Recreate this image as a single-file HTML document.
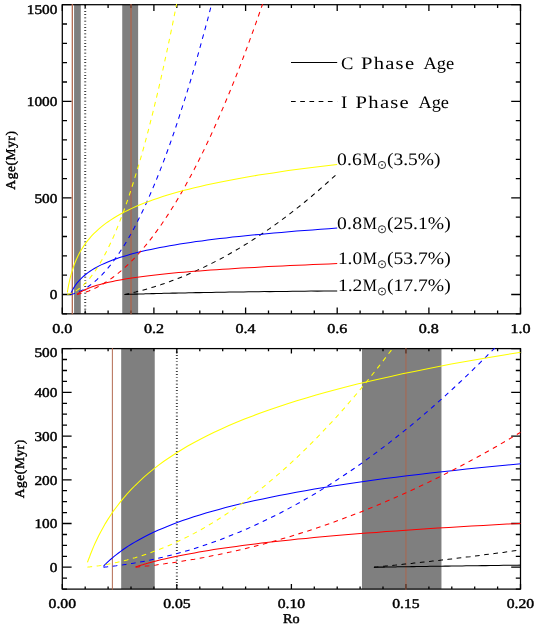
<!DOCTYPE html>
<html><head><meta charset="utf-8"><title>Age vs Ro</title>
<style>html,body{margin:0;padding:0;background:#fff}body{width:540px;height:628px;overflow:hidden;font-family:"Liberation Serif",serif}svg{display:block}</style>
</head><body>
<svg width="540" height="628" viewBox="0 0 540 628">
<rect width="540" height="628" fill="#fff"/>
<defs>
<clipPath id="ct"><rect x="62.30" y="4.10" width="458.20" height="310.32"/></clipPath>
<clipPath id="cb"><rect x="62.30" y="348.00" width="458.20" height="241.71"/></clipPath>
</defs>
<rect x="74.08" y="4.70" width="6.71" height="309.12" fill="#7f7f7f"/>
<rect x="122.23" y="4.70" width="15.90" height="309.12" fill="#7f7f7f"/>
<rect x="121.18" y="348.60" width="33.56" height="240.51" fill="#7f7f7f"/>
<rect x="361.96" y="348.60" width="79.50" height="240.51" fill="#7f7f7f"/>
<rect x="62.30" y="4.70" width="458.20" height="309.12" fill="none" stroke="#000" stroke-width="1.25"/>
<path d="M62.3 313.8v-6.4M62.3 4.7v6.4M153.9 313.8v-6.4M153.9 4.7v6.4M245.6 313.8v-6.4M245.6 4.7v6.4M337.2 313.8v-6.4M337.2 4.7v6.4M428.9 313.8v-6.4M428.9 4.7v6.4M520.5 313.8v-6.4M520.5 4.7v6.4" stroke="#000" stroke-width="1.3" fill="none"/>
<path d="M85.2 313.8v-3.3M85.2 4.7v3.3M108.1 313.8v-3.3M108.1 4.7v3.3M131.0 313.8v-3.3M131.0 4.7v3.3M176.8 313.8v-3.3M176.8 4.7v3.3M199.8 313.8v-3.3M199.8 4.7v3.3M222.7 313.8v-3.3M222.7 4.7v3.3M268.5 313.8v-3.3M268.5 4.7v3.3M291.4 313.8v-3.3M291.4 4.7v3.3M314.3 313.8v-3.3M314.3 4.7v3.3M360.1 313.8v-3.3M360.1 4.7v3.3M383.0 313.8v-3.3M383.0 4.7v3.3M405.9 313.8v-3.3M405.9 4.7v3.3M451.8 313.8v-3.3M451.8 4.7v3.3M474.7 313.8v-3.3M474.7 4.7v3.3M497.6 313.8v-3.3M497.6 4.7v3.3" stroke="#000" stroke-width="1.3" fill="none"/>
<path d="M62.3 294.5h9.3M520.5 294.5h-9.3M62.3 197.9h9.3M520.5 197.9h-9.3M62.3 101.3h9.3M520.5 101.3h-9.3M62.3 4.7h9.3M520.5 4.7h-9.3" stroke="#000" stroke-width="1.3" fill="none"/>
<path d="M62.3 313.8h4.7M520.5 313.8h-4.7M62.3 275.2h4.7M520.5 275.2h-4.7M62.3 255.9h4.7M520.5 255.9h-4.7M62.3 236.5h4.7M520.5 236.5h-4.7M62.3 217.2h4.7M520.5 217.2h-4.7M62.3 178.6h4.7M520.5 178.6h-4.7M62.3 159.3h4.7M520.5 159.3h-4.7M62.3 139.9h4.7M520.5 139.9h-4.7M62.3 120.6h4.7M520.5 120.6h-4.7M62.3 82.0h4.7M520.5 82.0h-4.7M62.3 62.7h4.7M520.5 62.7h-4.7M62.3 43.3h4.7M520.5 43.3h-4.7M62.3 24.0h4.7M520.5 24.0h-4.7" stroke="#000" stroke-width="1.3" fill="none"/>
<rect x="62.30" y="348.60" width="458.20" height="240.51" fill="none" stroke="#000" stroke-width="1.25"/>
<path d="M62.3 589.1v-5.0M62.3 348.6v5.0M176.8 589.1v-5.0M176.8 348.6v5.0M291.4 589.1v-5.0M291.4 348.6v5.0M405.9 589.1v-5.0M405.9 348.6v5.0M520.5 589.1v-5.0M520.5 348.6v5.0" stroke="#000" stroke-width="1.3" fill="none"/>
<path d="M85.2 589.1v-2.7M85.2 348.6v2.7M108.1 589.1v-2.7M108.1 348.6v2.7M131.0 589.1v-2.7M131.0 348.6v2.7M153.9 589.1v-2.7M153.9 348.6v2.7M199.8 589.1v-2.7M199.8 348.6v2.7M222.7 589.1v-2.7M222.7 348.6v2.7M245.6 589.1v-2.7M245.6 348.6v2.7M268.5 589.1v-2.7M268.5 348.6v2.7M314.3 589.1v-2.7M314.3 348.6v2.7M337.2 589.1v-2.7M337.2 348.6v2.7M360.1 589.1v-2.7M360.1 348.6v2.7M383.0 589.1v-2.7M383.0 348.6v2.7M428.9 589.1v-2.7M428.9 348.6v2.7M451.8 589.1v-2.7M451.8 348.6v2.7M474.7 589.1v-2.7M474.7 348.6v2.7M497.6 589.1v-2.7M497.6 348.6v2.7" stroke="#000" stroke-width="1.3" fill="none"/>
<path d="M62.3 567.2h9.3M520.5 567.2h-9.3M62.3 523.5h9.3M520.5 523.5h-9.3M62.3 479.8h9.3M520.5 479.8h-9.3M62.3 436.1h9.3M520.5 436.1h-9.3M62.3 392.3h9.3M520.5 392.3h-9.3M62.3 348.6h9.3M520.5 348.6h-9.3" stroke="#000" stroke-width="1.3" fill="none"/>
<path d="M62.3 589.1h4.7M520.5 589.1h-4.7M62.3 578.2h4.7M520.5 578.2h-4.7M62.3 556.3h4.7M520.5 556.3h-4.7M62.3 545.4h4.7M520.5 545.4h-4.7M62.3 534.5h4.7M520.5 534.5h-4.7M62.3 512.6h4.7M520.5 512.6h-4.7M62.3 501.7h4.7M520.5 501.7h-4.7M62.3 490.7h4.7M520.5 490.7h-4.7M62.3 468.9h4.7M520.5 468.9h-4.7M62.3 457.9h4.7M520.5 457.9h-4.7M62.3 447.0h4.7M520.5 447.0h-4.7M62.3 425.1h4.7M520.5 425.1h-4.7M62.3 414.2h4.7M520.5 414.2h-4.7M62.3 403.3h4.7M520.5 403.3h-4.7M62.3 381.4h4.7M520.5 381.4h-4.7M62.3 370.5h4.7M520.5 370.5h-4.7M62.3 359.5h4.7M520.5 359.5h-4.7" stroke="#000" stroke-width="1.3" fill="none"/>
<g clip-path="url(#ct)" fill="none" stroke-width="1.05">
<line x1="72.32" x2="72.32" y1="3.70" y2="314.82" stroke="#b0644a" stroke-width="1.25"/>
<line x1="131.03" x2="131.03" y1="3.70" y2="314.82" stroke="#b0644a" stroke-width="1.25"/>
<line x1="85.21" x2="85.21" y1="4.70" y2="313.82" stroke="#000" stroke-width="2" stroke-dasharray="0.68 2.52"/>
<path d="M124.6 294.5L124.6 294.5L124.7 294.5L124.8 294.5L125.0 294.5L125.3 294.5L125.6 294.5L126.0 294.4L126.5 294.4L127.0 294.4L127.6 294.4L128.4 294.4L129.1 294.3L130.0 294.3L131.0 294.3L132.0 294.2L133.1 294.2L134.4 294.1L135.7 294.1L137.1 294.1L138.6 294.0L140.1 294.0L141.8 293.9L143.6 293.9L145.4 293.8L147.4 293.7L149.4 293.7L151.6 293.6L153.8 293.6L156.2 293.5L158.6 293.4L161.2 293.4L163.8 293.3L166.6 293.2L169.4 293.2L172.4 293.1L175.4 293.1L178.6 293.0L181.8 292.9L185.2 292.9L188.7 292.8L192.3 292.7L195.9 292.6L199.7 292.6L203.6 292.5L207.6 292.4L211.7 292.4L216.0 292.3L220.3 292.2L224.7 292.2L229.3 292.1L234.0 292.0L238.7 292.0L243.6 291.9L248.6 291.8L253.7 291.8L258.9 291.7L264.3 291.6L269.7 291.6L275.3 291.5L280.9 291.5L286.7 291.4L292.6 291.3L298.7 291.3L304.8 291.2L311.0 291.1L317.4 291.1L323.9 291.0L330.5 291.0L337.2 290.9" stroke="#000000"/>
<path d="M124.6 294.5L124.6 294.5L124.7 294.5L124.8 294.4L125.0 294.4L125.3 294.3L125.6 294.3L126.0 294.2L126.5 294.1L127.0 294.0L127.6 293.8L128.4 293.7L129.1 293.5L130.0 293.3L131.0 293.1L132.0 292.8L133.1 292.6L134.4 292.3L135.7 292.0L137.1 291.6L138.6 291.2L140.1 290.8L141.8 290.4L143.6 289.9L145.4 289.4L147.4 288.8L149.4 288.2L151.6 287.6L153.8 286.9L156.2 286.2L158.6 285.4L161.2 284.6L163.8 283.7L166.6 282.7L169.4 281.7L172.4 280.6L175.4 279.5L178.6 278.2L181.8 276.9L185.2 275.6L188.7 274.1L192.3 272.6L195.9 270.9L199.7 269.2L203.6 267.4L207.6 265.4L211.7 263.4L216.0 261.2L220.3 259.0L224.7 256.6L229.3 254.0L234.0 251.4L238.7 248.6L243.6 245.6L248.6 242.6L253.7 239.3L258.9 235.9L264.3 232.3L269.7 228.6L275.3 224.6L280.9 220.5L286.7 216.2L292.6 211.6L298.7 206.9L304.8 202.0L311.0 196.8L317.4 191.4L323.9 185.7L330.5 179.8L337.2 173.7" stroke="#000000" stroke-dasharray="4.7 4.55"/>
<path d="M70.5 294.0L70.6 293.9L70.7 293.7L70.8 293.4L71.1 292.9L71.4 292.2L71.8 291.4L72.3 290.4L72.9 289.3L73.6 288.1L74.4 286.9L75.2 285.5L76.2 284.1L77.3 282.7L78.5 281.3L79.8 279.8L81.3 278.4L82.8 276.9L84.4 275.5L86.2 274.0L88.0 272.6L90.0 271.2L92.1 269.9L94.3 268.5L96.7 267.2L99.1 265.9L101.7 264.6L104.4 263.4L107.2 262.2L110.2 261.0L113.2 259.8L116.4 258.7L119.7 257.5L123.2 256.4L126.8 255.4L130.5 254.3L134.3 253.3L138.2 252.3L142.3 251.3L146.6 250.3L150.9 249.4L155.4 248.5L160.0 247.6L164.8 246.7L169.7 245.8L174.7 244.9L179.8 244.1L185.1 243.3L190.6 242.4L196.1 241.6L201.8 240.9L207.7 240.1L213.7 239.3L219.8 238.6L226.1 237.9L232.5 237.1L239.0 236.4L245.7 235.7L252.5 235.0L259.5 234.4L266.6 233.7L273.9 233.0L281.3 232.4L288.9 231.8L296.5 231.1L304.4 230.5L312.4 229.9L320.5 229.3L328.8 228.7L337.2 228.1" stroke="#0000ff"/>
<path d="M70.5 294.5L70.6 294.4L70.7 294.4L70.8 294.4L71.1 294.3L71.4 294.3L71.8 294.2L72.3 294.0L72.9 293.9L73.6 293.7L74.4 293.4L75.2 293.2L76.2 292.8L77.3 292.4L78.5 291.9L79.8 291.3L81.3 290.7L82.8 289.9L84.4 289.0L86.2 287.9L88.0 286.7L90.0 285.3L92.1 283.7L94.3 281.9L96.7 279.9L99.1 277.6L101.7 275.1L104.4 272.2L107.2 269.0L110.2 265.4L113.2 261.5L116.4 257.1L119.7 252.3L123.2 246.9L126.8 241.1L130.5 234.7L134.3 227.7L138.2 220.0L142.3 211.7L146.6 202.6L150.9 192.8L155.4 182.2L160.0 170.6L164.8 158.2L169.7 144.8L174.7 130.4L179.8 114.9L185.1 98.3L190.6 80.5L196.1 61.4L201.8 41.0L207.7 19.3L213.7 -3.9L219.8 -28.6L226.1 -54.9L232.5 -82.9L239.0 -112.5L245.7 -144.0L252.5 -177.3L259.5 -212.6L266.6 -250.0L273.9 -289.4L281.3 -331.1L288.9 -375.0L296.5 -421.3L304.4 -470.1L312.4 -521.4L320.5 -575.4L328.8 -632.2L337.2 -691.8" stroke="#0000ff" stroke-dasharray="4.7 4.55"/>
<path d="M77.0 294.3L77.0 294.3L77.1 294.2L77.2 294.1L77.5 294.0L77.8 293.7L78.2 293.5L78.7 293.2L79.2 292.8L79.9 292.4L80.7 291.9L81.5 291.5L82.5 291.0L83.6 290.4L84.8 289.9L86.0 289.3L87.4 288.7L88.9 288.1L90.5 287.5L92.2 286.8L94.0 286.2L96.0 285.6L98.0 285.0L100.2 284.4L102.5 283.8L104.8 283.2L107.4 282.6L110.0 282.0L112.7 281.4L115.6 280.8L118.6 280.2L121.7 279.7L125.0 279.1L128.3 278.6L131.8 278.0L135.4 277.5L139.2 277.0L143.0 276.5L147.0 276.0L151.1 275.5L155.4 275.0L159.8 274.5L164.3 274.0L168.9 273.5L173.7 273.1L178.6 272.6L183.6 272.2L188.8 271.8L194.1 271.3L199.5 270.9L205.1 270.5L210.8 270.1L216.6 269.7L222.6 269.3L228.7 268.9L235.0 268.5L241.4 268.1L247.9 267.7L254.6 267.4L261.4 267.0L268.3 266.6L275.4 266.3L282.6 265.9L290.0 265.6L297.5 265.3L305.2 264.9L313.0 264.6L320.9 264.3L329.0 263.9L337.2 263.6" stroke="#ff0000"/>
<path d="M77.0 294.4L77.0 294.4L77.1 294.4L77.2 294.4L77.5 294.3L77.8 294.3L78.2 294.2L78.7 294.1L79.2 293.9L79.9 293.8L80.7 293.6L81.5 293.3L82.5 293.0L83.6 292.7L84.8 292.3L86.0 291.9L87.4 291.4L88.9 290.9L90.5 290.2L92.2 289.5L94.0 288.7L96.0 287.8L98.0 286.7L100.2 285.6L102.5 284.3L104.8 282.8L107.4 281.2L110.0 279.5L112.7 277.5L115.6 275.3L118.6 272.9L121.7 270.3L125.0 267.4L128.3 264.3L131.8 260.8L135.4 257.1L139.2 253.0L143.0 248.6L147.0 243.8L151.1 238.6L155.4 232.9L159.8 226.9L164.3 220.3L168.9 213.3L173.7 205.7L178.6 197.6L183.6 188.9L188.8 179.5L194.1 169.6L199.5 158.9L205.1 147.6L210.8 135.5L216.6 122.6L222.6 108.9L228.7 94.4L235.0 78.9L241.4 62.6L247.9 45.2L254.6 26.9L261.4 7.5L268.3 -13.0L275.4 -34.6L282.6 -57.4L290.0 -81.4L297.5 -106.7L305.2 -133.4L313.0 -161.4L320.9 -190.8L329.0 -221.7L337.2 -254.1" stroke="#ff0000" stroke-dasharray="4.7 4.55"/>
<path d="M67.3 292.3L67.4 292.2L67.5 291.6L67.6 290.6L67.9 289.2L68.2 287.4L68.6 285.2L69.1 282.8L69.7 280.1L70.4 277.2L71.2 274.2L72.1 271.1L73.1 268.0L74.2 264.8L75.4 261.7L76.7 258.7L78.2 255.6L79.7 252.6L81.4 249.7L83.2 246.9L85.0 244.1L87.0 241.4L89.2 238.8L91.4 236.2L93.8 233.7L96.3 231.3L98.9 228.9L101.6 226.6L104.4 224.4L107.4 222.2L110.5 220.1L113.8 218.0L117.1 216.0L120.6 214.0L124.2 212.1L128.0 210.2L131.8 208.4L135.8 206.6L140.0 204.8L144.3 203.1L148.7 201.4L153.2 199.8L157.9 198.2L162.7 196.6L167.6 195.1L172.7 193.6L177.9 192.1L183.3 190.6L188.8 189.2L194.4 187.8L200.2 186.4L206.1 185.1L212.2 183.8L218.4 182.5L224.7 181.2L231.2 180.0L237.8 178.7L244.6 177.5L251.5 176.3L258.6 175.1L265.8 174.0L273.1 172.9L280.6 171.7L288.3 170.6L296.1 169.6L304.0 168.5L312.1 167.4L320.3 166.4L328.7 165.4L337.2 164.4" stroke="#ffff00"/>
<path d="M67.3 294.4L67.4 294.4L67.5 294.4L67.6 294.4L67.9 294.3L68.2 294.2L68.6 294.1L69.1 294.0L69.7 293.8L70.4 293.5L71.2 293.2L72.1 292.9L73.1 292.4L74.2 291.8L75.4 291.2L76.7 290.4L78.2 289.4L79.7 288.2L81.4 286.9L83.2 285.3L85.0 283.5L87.0 281.4L89.2 278.9L91.4 276.1L93.8 272.9L96.3 269.3L98.9 265.2L101.6 260.6L104.4 255.5L107.4 249.7L110.5 243.2L113.8 236.1L117.1 228.1L120.6 219.3L124.2 209.7L128.0 199.0L131.8 187.4L135.8 174.6L140.0 160.7L144.3 145.5L148.7 129.0L153.2 111.1L157.9 91.7L162.7 70.7L167.6 48.1L172.7 23.7L177.9 -2.6L183.3 -30.8L188.8 -61.1L194.4 -93.5L200.2 -128.3L206.1 -165.4L212.2 -204.9L218.4 -247.2L224.7 -292.1L231.2 -339.9L237.8 -390.7L244.6 -444.6L251.5 -501.8L258.6 -562.3L265.8 -626.4L273.1 -694.2L280.6 -765.7L288.3 -841.3L296.1 -921.0L304.0 -1004.9L312.1 -1093.3L320.3 -1186.4L328.7 -1284.2L337.2 -1386.9" stroke="#ffff00" stroke-dasharray="4.7 4.55"/>
</g>
<g clip-path="url(#cb)" fill="none" stroke-width="1.05">
<line x1="112.38" x2="112.38" y1="347.60" y2="590.12" stroke="#b0644a" stroke-width="0.95"/>
<line x1="405.95" x2="405.95" y1="347.60" y2="590.12" stroke="#b0644a" stroke-width="0.95"/>
<line x1="176.85" x2="176.85" y1="348.60" y2="589.12" stroke="#000" stroke-width="2" stroke-dasharray="0.68 2.52"/>
<path d="M373.9 567.2L373.9 567.2L373.9 567.2L374.0 567.2L374.2 567.2L374.4 567.2L374.6 567.2L374.9 567.2L375.3 567.2L375.7 567.2L376.1 567.2L376.7 567.2L377.2 567.2L377.9 567.2L378.6 567.2L379.4 567.1L380.2 567.1L381.1 567.1L382.1 567.1L383.1 567.1L384.2 567.1L385.4 567.0L386.7 567.0L388.0 567.0L389.4 567.0L390.8 567.0L392.3 566.9L393.9 566.9L395.6 566.9L397.4 566.8L399.2 566.8L401.1 566.8L403.0 566.8L405.1 566.7L407.2 566.7L409.4 566.7L411.7 566.6L414.0 566.6L416.4 566.5L418.9 566.5L421.5 566.5L424.2 566.4L426.9 566.4L429.7 566.3L432.6 566.3L435.6 566.3L438.7 566.2L441.8 566.2L445.0 566.1L448.3 566.1L451.7 566.0L455.2 566.0L458.7 565.9L462.3 565.9L466.1 565.8L469.9 565.8L473.7 565.7L477.7 565.7L481.8 565.6L485.9 565.6L490.1 565.5L494.4 565.4L498.8 565.4L503.3 565.3L507.8 565.3L512.5 565.2L517.2 565.2L522.0 565.1L527.0 565.1L532.0 565.0" stroke="#000000"/>
<path d="M373.9 567.2L373.9 567.2L373.9 567.2L374.0 567.2L374.2 567.2L374.4 567.2L374.6 567.1L374.9 567.1L375.3 567.1L375.7 567.0L376.1 567.0L376.7 566.9L377.2 566.9L377.9 566.8L378.6 566.8L379.4 566.7L380.2 566.6L381.1 566.5L382.1 566.4L383.1 566.3L384.2 566.2L385.4 566.1L386.7 566.0L388.0 565.8L389.4 565.7L390.8 565.6L392.3 565.4L393.9 565.2L395.6 565.1L397.4 564.9L399.2 564.7L401.1 564.5L403.0 564.3L405.1 564.1L407.2 563.9L409.4 563.6L411.7 563.4L414.0 563.1L416.4 562.9L418.9 562.6L421.5 562.3L424.2 562.0L426.9 561.7L429.7 561.4L432.6 561.1L435.6 560.8L438.7 560.4L441.8 560.0L445.0 559.7L448.3 559.3L451.7 558.9L455.2 558.5L458.7 558.0L462.3 557.6L466.1 557.1L469.9 556.7L473.7 556.2L477.7 555.7L481.8 555.2L485.9 554.6L490.1 554.1L494.4 553.5L498.8 553.0L503.3 552.4L507.8 551.7L512.5 551.1L517.2 550.4L522.0 549.8L527.0 549.1L532.0 548.4" stroke="#000000" stroke-dasharray="4.7 4.55"/>
<path d="M103.5 566.1L103.6 566.1L103.7 565.9L104.0 565.6L104.4 565.3L104.9 564.7L105.5 564.1L106.3 563.3L107.3 562.4L108.4 561.4L109.7 560.2L111.1 559.0L112.7 557.6L114.4 556.1L116.4 554.6L118.5 553.0L120.7 551.3L123.2 549.5L125.8 547.7L128.6 545.9L131.6 544.0L134.8 542.1L138.2 540.2L141.8 538.2L145.5 536.3L149.4 534.3L153.6 532.3L157.9 530.3L162.4 528.4L167.2 526.4L172.1 524.5L177.2 522.5L182.6 520.6L188.1 518.7L193.8 516.8L199.8 514.9L205.9 513.0L212.3 511.2L218.9 509.4L225.6 507.6L232.6 505.8L239.8 504.0L247.3 502.3L254.9 500.6L262.8 498.9L270.8 497.2L279.1 495.5L287.6 493.9L296.3 492.3L305.3 490.7L314.5 489.1L323.9 487.6L333.5 486.0L343.3 484.5L353.4 483.0L363.7 481.5L374.2 480.1L384.9 478.6L395.9 477.2L407.1 475.8L418.6 474.4L430.2 473.1L442.1 471.7L454.2 470.4L466.6 469.0L479.2 467.7L492.0 466.5L505.1 465.2L518.4 463.9L532.0 462.7" stroke="#0000ff"/>
<path d="M103.5 567.1L103.6 567.1L103.7 567.1L104.0 567.1L104.4 567.1L104.9 567.0L105.5 566.9L106.3 566.9L107.3 566.8L108.4 566.6L109.7 566.5L111.1 566.3L112.7 566.2L114.4 565.9L116.4 565.7L118.5 565.4L120.7 565.1L123.2 564.8L125.8 564.4L128.6 564.0L131.6 563.5L134.8 562.9L138.2 562.3L141.8 561.7L145.5 561.0L149.4 560.2L153.6 559.3L157.9 558.3L162.4 557.3L167.2 556.1L172.1 554.9L177.2 553.5L182.6 552.1L188.1 550.4L193.8 548.7L199.8 546.8L205.9 544.8L212.3 542.6L218.9 540.2L225.6 537.6L232.6 534.8L239.8 531.9L247.3 528.7L254.9 525.3L262.8 521.6L270.8 517.7L279.1 513.6L287.6 509.1L296.3 504.4L305.3 499.3L314.5 494.0L323.9 488.3L333.5 482.2L343.3 475.8L353.4 469.0L363.7 461.8L374.2 454.1L384.9 446.1L395.9 437.5L407.1 428.6L418.6 419.1L430.2 409.1L442.1 398.6L454.2 387.5L466.6 375.9L479.2 363.6L492.0 350.8L505.1 337.3L518.4 323.1L532.0 308.3" stroke="#0000ff" stroke-dasharray="4.7 4.55"/>
<path d="M135.6 566.8L135.6 566.8L135.8 566.8L136.0 566.7L136.4 566.6L136.8 566.4L137.5 566.2L138.2 566.0L139.1 565.7L140.1 565.4L141.3 565.1L142.6 564.7L144.1 564.2L145.7 563.8L147.5 563.3L149.4 562.7L151.5 562.2L153.8 561.6L156.2 561.0L158.8 560.3L161.6 559.6L164.6 558.9L167.7 558.2L171.0 557.5L174.4 556.8L178.1 556.0L181.9 555.2L185.9 554.4L190.1 553.7L194.5 552.9L199.0 552.1L203.8 551.2L208.7 550.4L213.8 549.6L219.1 548.8L224.6 548.0L230.3 547.2L236.2 546.4L242.3 545.5L248.6 544.7L255.0 543.9L261.7 543.1L268.6 542.3L275.6 541.5L282.9 540.7L290.4 539.9L298.0 539.1L305.9 538.4L314.0 537.6L322.3 536.8L330.7 536.1L339.4 535.3L348.3 534.6L357.4 533.8L366.7 533.1L376.3 532.4L386.0 531.6L395.9 530.9L406.1 530.2L416.5 529.5L427.0 528.8L437.8 528.1L448.8 527.4L460.1 526.8L471.5 526.1L483.2 525.4L495.0 524.8L507.1 524.1L519.4 523.5L532.0 522.8" stroke="#ff0000"/>
<path d="M135.6 567.1L135.6 567.1L135.8 567.1L136.0 567.1L136.4 567.1L136.8 567.0L137.5 566.9L138.2 566.9L139.1 566.8L140.1 566.7L141.3 566.6L142.6 566.4L144.1 566.3L145.7 566.1L147.5 565.9L149.4 565.7L151.5 565.4L153.8 565.2L156.2 564.9L158.8 564.5L161.6 564.2L164.6 563.8L167.7 563.3L171.0 562.9L174.4 562.4L178.1 561.8L181.9 561.2L185.9 560.6L190.1 559.9L194.5 559.2L199.0 558.3L203.8 557.5L208.7 556.5L213.8 555.5L219.1 554.5L224.6 553.3L230.3 552.1L236.2 550.7L242.3 549.3L248.6 547.8L255.0 546.2L261.7 544.5L268.6 542.6L275.6 540.7L282.9 538.6L290.4 536.4L298.0 534.0L305.9 531.6L314.0 528.9L322.3 526.1L330.7 523.2L339.4 520.0L348.3 516.7L357.4 513.3L366.7 509.6L376.3 505.7L386.0 501.6L395.9 497.3L406.1 492.8L416.5 488.0L427.0 483.0L437.8 477.7L448.8 472.2L460.1 466.4L471.5 460.3L483.2 453.9L495.0 447.3L507.1 440.3L519.4 433.0L532.0 425.3" stroke="#ff0000" stroke-dasharray="4.7 4.55"/>
<path d="M87.5 562.3L87.5 562.2L87.7 561.8L87.9 561.1L88.3 560.0L88.9 558.5L89.6 556.7L90.4 554.5L91.4 552.0L92.5 549.2L93.8 546.1L95.3 542.8L97.0 539.2L98.8 535.5L100.8 531.7L103.0 527.7L105.3 523.6L107.9 519.4L110.6 515.2L113.5 510.9L116.7 506.7L120.0 502.4L123.5 498.1L127.1 493.9L131.0 489.7L135.1 485.5L139.4 481.3L143.9 477.2L148.6 473.2L153.5 469.2L158.6 465.2L163.9 461.3L169.5 457.5L175.2 453.7L181.2 450.0L187.3 446.3L193.7 442.7L200.3 439.2L207.1 435.7L214.2 432.2L221.4 428.9L228.9 425.5L236.6 422.3L244.5 419.0L252.7 415.9L261.1 412.8L269.6 409.7L278.5 406.7L287.5 403.7L296.8 400.8L306.3 397.9L316.1 395.1L326.0 392.3L336.3 389.5L346.7 386.8L357.4 384.1L368.3 381.5L379.4 378.9L390.8 376.4L402.4 373.8L414.3 371.4L426.4 368.9L438.8 366.5L451.3 364.1L464.2 361.8L477.2 359.4L490.5 357.2L504.1 354.9L517.9 352.7L532.0 350.5" stroke="#ffff00"/>
<path d="M87.5 567.1L87.5 567.1L87.7 567.1L87.9 567.0L88.3 567.0L88.9 566.9L89.6 566.9L90.4 566.8L91.4 566.7L92.5 566.5L93.8 566.4L95.3 566.2L97.0 565.9L98.8 565.7L100.8 565.4L103.0 565.0L105.3 564.6L107.9 564.2L110.6 563.7L113.5 563.1L116.7 562.4L120.0 561.7L123.5 560.8L127.1 559.9L131.0 558.8L135.1 557.7L139.4 556.4L143.9 554.9L148.6 553.4L153.5 551.6L158.6 549.7L163.9 547.6L169.5 545.2L175.2 542.7L181.2 539.9L187.3 536.9L193.7 533.6L200.3 530.0L207.1 526.1L214.2 521.9L221.4 517.3L228.9 512.4L236.6 507.2L244.5 501.5L252.7 495.3L261.1 488.8L269.6 481.7L278.5 474.2L287.5 466.2L296.8 457.6L306.3 448.4L316.1 438.6L326.0 428.2L336.3 417.2L346.7 405.4L357.4 392.9L368.3 379.7L379.4 365.7L390.8 350.9L402.4 335.3L414.3 318.7L426.4 301.3L438.8 282.8L451.3 263.4L464.2 243.0L477.2 221.5L490.5 198.9L504.1 175.1L517.9 150.1L532.0 124.0" stroke="#ffff00" stroke-dasharray="4.7 4.55"/>
</g>
<g font-family="Liberation Serif, serif" style="filter:grayscale(1);text-rendering:geometricPrecision">
<text transform="translate(57.30,299.40) scale(1.140,1)" text-anchor="end" font-size="13.4" stroke="#000" stroke-width="0.45">0</text>
<text transform="translate(57.30,202.80) scale(1.140,1)" text-anchor="end" font-size="13.4" stroke="#000" stroke-width="0.45">500</text>
<text transform="translate(57.30,106.20) scale(1.140,1)" text-anchor="end" font-size="13.4" stroke="#000" stroke-width="0.45">1000</text>
<text transform="translate(57.30,13.60) scale(1.140,1)" text-anchor="end" font-size="13.4" stroke="#000" stroke-width="0.45">1500</text>
<text transform="translate(62.30,333.00) scale(1.200,1)" text-anchor="middle" font-size="13.4" stroke="#000" stroke-width="0.45">0.0</text>
<text transform="translate(153.94,333.00) scale(1.200,1)" text-anchor="middle" font-size="13.4" stroke="#000" stroke-width="0.45">0.2</text>
<text transform="translate(245.58,333.00) scale(1.200,1)" text-anchor="middle" font-size="13.4" stroke="#000" stroke-width="0.45">0.4</text>
<text transform="translate(337.22,333.00) scale(1.200,1)" text-anchor="middle" font-size="13.4" stroke="#000" stroke-width="0.45">0.6</text>
<text transform="translate(428.86,333.00) scale(1.200,1)" text-anchor="middle" font-size="13.4" stroke="#000" stroke-width="0.45">0.8</text>
<text transform="translate(520.50,333.00) scale(1.200,1)" text-anchor="middle" font-size="13.4" stroke="#000" stroke-width="0.45">1.0</text>
<text transform="translate(57.30,572.15) scale(1.140,1)" text-anchor="end" font-size="13.4" stroke="#000" stroke-width="0.45">0</text>
<text transform="translate(57.30,528.42) scale(1.140,1)" text-anchor="end" font-size="13.4" stroke="#000" stroke-width="0.45">100</text>
<text transform="translate(57.30,484.69) scale(1.140,1)" text-anchor="end" font-size="13.4" stroke="#000" stroke-width="0.45">200</text>
<text transform="translate(57.30,440.96) scale(1.140,1)" text-anchor="end" font-size="13.4" stroke="#000" stroke-width="0.45">300</text>
<text transform="translate(57.30,397.23) scale(1.140,1)" text-anchor="end" font-size="13.4" stroke="#000" stroke-width="0.45">400</text>
<text transform="translate(57.30,356.70) scale(1.140,1)" text-anchor="end" font-size="13.4" stroke="#000" stroke-width="0.45">500</text>
<text transform="translate(62.30,607.60) scale(1.170,1)" text-anchor="middle" font-size="13.4" stroke="#000" stroke-width="0.45">0.00</text>
<text transform="translate(176.85,607.60) scale(1.170,1)" text-anchor="middle" font-size="13.4" stroke="#000" stroke-width="0.45">0.05</text>
<text transform="translate(291.40,607.60) scale(1.170,1)" text-anchor="middle" font-size="13.4" stroke="#000" stroke-width="0.45">0.10</text>
<text transform="translate(405.95,607.60) scale(1.170,1)" text-anchor="middle" font-size="13.4" stroke="#000" stroke-width="0.45">0.15</text>
<text transform="translate(520.50,607.60) scale(1.170,1)" text-anchor="middle" font-size="13.4" stroke="#000" stroke-width="0.45">0.20</text>
<text transform="translate(291.30,623.20) scale(1.060,1)" text-anchor="middle" font-size="13.4" stroke="#000" stroke-width="0.45">Ro</text>
<text transform="translate(15.1,160) rotate(-90)" letter-spacing="0.62" text-anchor="middle" font-size="13.4" stroke="#000" stroke-width="0.45">Age(Myr)</text>
<text transform="translate(24.0,468.7) rotate(-90)" letter-spacing="0.62" text-anchor="middle" font-size="13.4" stroke="#000" stroke-width="0.45">Age(Myr)</text>
<line x1="291" x2="337.2" y1="62.5" y2="62.5" stroke="#000" stroke-width="1"/>
<line x1="291" x2="337.2" y1="101.5" y2="101.5" stroke="#000" stroke-width="1" stroke-dasharray="4.7 4.52"/>
<text transform="translate(340.94,69.1) scale(1.061,1)" letter-spacing="0.00" font-size="17.5">C</text>
<text transform="translate(360.91,69.1) scale(1.180,1)" letter-spacing="1.05" font-size="17.5">Phase</text>
<text transform="translate(423.52,69.1) scale(1.054,1)" letter-spacing="0.00" font-size="17.5">Age</text>
<text transform="translate(341.02,107.9) scale(1.070,1)" letter-spacing="0.00" font-size="17.5">I</text>
<text transform="translate(355.61,107.9) scale(1.180,1)" letter-spacing="1.05" font-size="17.5">Phase</text>
<text transform="translate(418.42,107.9) scale(1.047,1)" letter-spacing="0.00" font-size="17.5">Age</text>
<text transform="translate(336.95,164.8) scale(1.120,1)" letter-spacing="0.19" font-size="17.5">0.6</text>
<text transform="translate(362.84,164.8) scale(0.908,1)" letter-spacing="0.00" font-size="17.5">M</text>
<circle cx="382.0" cy="165.0" r="3.6" fill="none" stroke="#000" stroke-width="0.8"/><circle cx="382.0" cy="165.0" r="0.8" fill="#000"/>
<text transform="translate(386.94,164.8) scale(1.112,1)" letter-spacing="0.00" font-size="17.5">(3.5%)</text>
<text transform="translate(336.95,229.1) scale(1.120,1)" letter-spacing="0.26" font-size="17.5">0.8</text>
<text transform="translate(362.84,229.1) scale(0.908,1)" letter-spacing="0.00" font-size="17.5">M</text>
<circle cx="382.0" cy="229.3" r="3.6" fill="none" stroke="#000" stroke-width="0.8"/><circle cx="382.0" cy="229.3" r="0.8" fill="#000"/>
<text transform="translate(386.94,229.1) scale(1.120,1)" letter-spacing="0.01" font-size="17.5">(25.1%)</text>
<text transform="translate(337.90,264.1) scale(1.103,1)" letter-spacing="0.00" font-size="17.5">1.0</text>
<text transform="translate(362.84,264.1) scale(0.908,1)" letter-spacing="0.00" font-size="17.5">M</text>
<circle cx="382.0" cy="264.3" r="3.6" fill="none" stroke="#000" stroke-width="0.8"/><circle cx="382.0" cy="264.3" r="0.8" fill="#000"/>
<text transform="translate(386.94,264.1) scale(1.120,1)" letter-spacing="0.01" font-size="17.5">(53.7%)</text>
<text transform="translate(337.88,291.3) scale(1.120,1)" letter-spacing="0.00" font-size="17.5">1.2</text>
<text transform="translate(362.84,291.3) scale(0.908,1)" letter-spacing="0.00" font-size="17.5">M</text>
<circle cx="382.0" cy="291.5" r="3.6" fill="none" stroke="#000" stroke-width="0.8"/><circle cx="382.0" cy="291.5" r="0.8" fill="#000"/>
<text transform="translate(386.94,291.3) scale(1.120,1)" letter-spacing="0.01" font-size="17.5">(17.7%)</text>
</g>
</svg>
</body></html>
